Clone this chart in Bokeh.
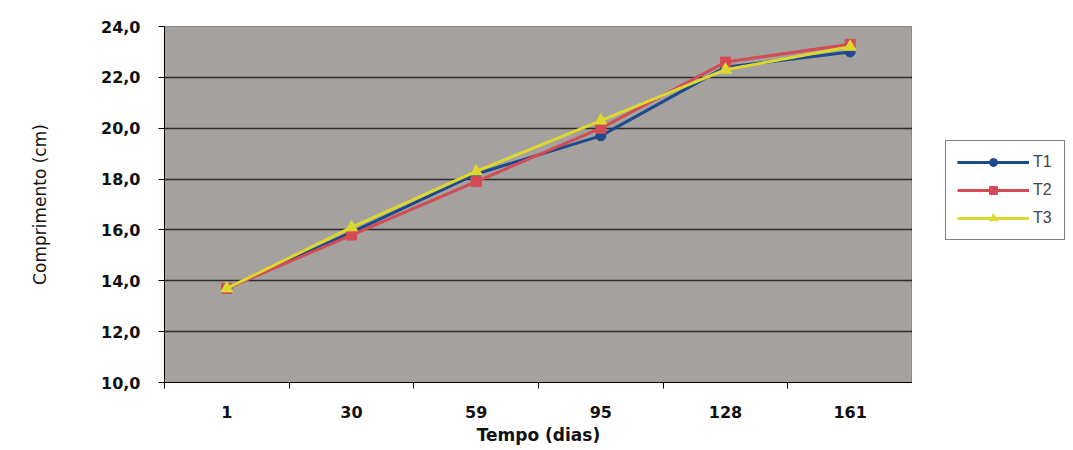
from bokeh.plotting import figure
from bokeh.models import Legend, LegendItem, FixedTicker, Range1d, ColumnDataSource
from bokeh.layouts import row
from bokeh.embed import file_html
from bokeh.resources import INLINE

# Data
days = ["1", "30", "59", "95", "128", "161"]
t1 = [13.7, 15.9, 18.2, 19.7, 22.4, 23.0]
t2 = [13.7, 15.8, 17.9, 20.0, 22.6, 23.3]
t3 = [13.7, 16.1, 18.3, 20.3, 22.3, 23.2]
series_names = ["T1", "T2", "T3"]
y_ticks = [10, 12, 14, 16, 18, 20, 22, 24]

xpos = [i + 0.5 for i in range(len(days))]
src = ColumnDataSource(dict(x=xpos, t1=t1, t2=t2, t3=t3))

p = figure(width=912, height=450, output_backend="svg", toolbar_location=None,
           x_range=Range1d(0, len(days)), y_range=Range1d(10, 24),
           min_border_left=164, min_border_right=0, min_border_top=26, min_border_bottom=68)
p.background_fill_color = "#a4a19f"
p.border_fill_color = "white"
p.outline_line_color = "#8a8a8a"

# x axis: labels at centers, ticks at category boundaries
p.xaxis.ticker = FixedTicker(ticks=xpos, minor_ticks=list(range(len(days) + 1)))
p.xaxis.major_label_overrides = {x: d for x, d in zip(xpos, days)}
p.xaxis.major_tick_out = 0
p.xaxis.major_tick_in = 0
p.xaxis.minor_tick_out = 6
p.xaxis.minor_tick_in = 0
p.xaxis.minor_tick_line_color = "black"
p.xaxis.axis_line_color = "black"
p.xaxis.major_label_text_font = "DejaVu Sans"
p.xaxis.major_label_text_font_style = "bold"
p.xaxis.major_label_text_font_size = "16px"
p.xaxis.major_label_text_color = "#111111"
p.xaxis.major_label_standoff = 17
p.xaxis.axis_label = "Tempo (dias)"
p.xaxis.axis_label_text_font = "DejaVu Sans"
p.xaxis.axis_label_text_font_style = "bold"
p.xaxis.axis_label_text_font_size = "17px"
p.xaxis.axis_label_text_color = "#111111"
p.xaxis.axis_label_standoff = 4

# y axis
p.yaxis.ticker = FixedTicker(ticks=y_ticks, minor_ticks=[])
p.yaxis.major_label_overrides = {v: f"{v:.1f}".replace(".", ",") for v in y_ticks}
p.yaxis.major_tick_out = 6
p.yaxis.major_tick_in = 0
p.yaxis.axis_line_color = "black"
p.yaxis.major_label_text_font = "DejaVu Sans"
p.yaxis.major_label_text_font_style = "bold"
p.yaxis.major_label_text_font_size = "16px"
p.yaxis.major_label_text_color = "#111111"
p.yaxis.major_label_standoff = 18
p.yaxis.axis_label = "Comprimento (cm)"
p.yaxis.axis_label_text_font = "DejaVu Sans"
p.yaxis.axis_label_text_font_style = "normal"
p.yaxis.axis_label_text_font_size = "17px"
p.yaxis.axis_label_text_color = "#111111"
p.yaxis.axis_label_standoff = 48

p.xgrid.grid_line_color = None
p.ygrid.ticker = FixedTicker(ticks=y_ticks)
p.ygrid.grid_line_color = "#2b2b2b"
p.ygrid.grid_line_width = 1.5

cols = ["t1", "t2", "t3"]
colors = ["#1d4a8c", "#d34b55", "#dcd830"]
markers = ["circle", "square", "triangle"]
sizes = [10, 10, 12]
for col, c, mk, sz in zip(cols, colors, markers, sizes):
    p.line("x", col, source=src, line_color=c, line_width=3)
    p.scatter("x", col, source=src, marker=mk, size=sz, fill_color=c, line_color=c)

# Legend panel (separate figure to the right; its data lies outside its ranges)
q = figure(width=161, height=450, output_backend="svg", toolbar_location=None,
           x_range=Range1d(100, 101), y_range=Range1d(100, 101),
           min_border_left=0, min_border_right=0, min_border_top=0, min_border_bottom=0)
q.axis.visible = False
q.grid.visible = False
q.outline_line_color = None
q.background_fill_color = "white"
q.border_fill_color = "white"
items = []
for name, col, c, mk, sz in zip(series_names, cols, colors, markers, sizes):
    lr = q.line("x", col, source=src, line_color=c, line_width=3)
    mr = q.scatter("x", col, source=src, marker=mk, size=sz, fill_color=c, line_color=c)
    items.append(LegendItem(label=name, renderers=[lr, mr]))

legend = Legend(items=items, location=(33, 142))
legend.glyph_width = 72
legend.glyph_height = 20
legend.spacing = 8
legend.padding = 11
legend.margin = 0
legend.label_standoff = 4
legend.label_text_font = "Liberation Sans"
legend.label_text_font_size = "16px"
legend.border_line_color = "black"
legend.border_line_width = 1
legend.background_fill_color = "white"
legend.background_fill_alpha = 1
q.add_layout(legend, "center")

layout = row(p, q, spacing=0)
open("out.html", "w").write(file_html(layout, INLINE))
